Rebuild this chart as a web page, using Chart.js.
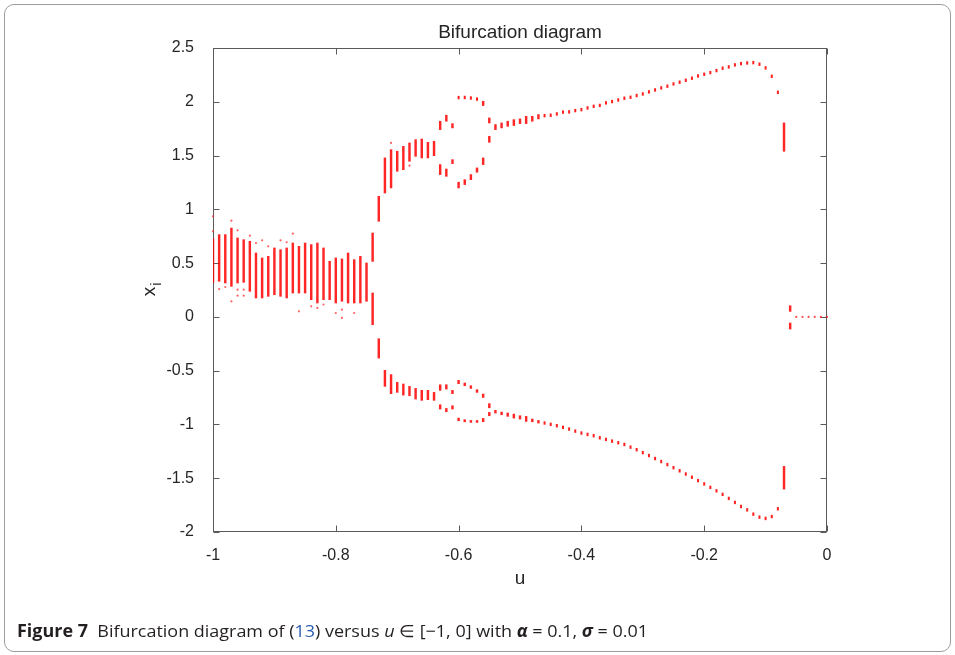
<!DOCTYPE html>
<html><head><meta charset="utf-8">
<script src="https://cdn.jsdelivr.net/npm/chart.js@4.4.1/dist/chart.umd.min.js"></script>
<style>
html,body{margin:0;padding:0;background:#fff;width:955px;height:655px;overflow:hidden;}
#frame{position:absolute;left:4px;top:4px;width:947px;height:648px;border:1px solid #9c9c9c;border-radius:10px;box-sizing:border-box;}
#wrap{position:absolute;left:0;top:0;width:955px;height:655px;}
#cap{position:absolute;left:17px;top:621px;line-height:20px;font-family:"Liberation Sans Narrow","Open Sans",sans-serif;font-size:17px;color:#231f20;white-space:nowrap;transform-origin:0 0;}
#cap .ref{color:#2a5db0;}
</style></head><body>
<div id="frame"></div>
<div id="wrap"><canvas id="c" width="955" height="655"></canvas></div>
<div id="cap"><b>Figure 7</b>&nbsp; Bifurcation diagram of (<span class="ref">13</span>) versus <i>u</i> ∈ [−1, 0] with <b><i>α</i></b> = 0.1, <b><i>σ</i></b> = 0.01</div>
<script>
// ---- text ----
const titleText = 'Bifurcation diagram';
const xAxisTitle = 'u';
const yAxisTitle = 'x';
const yAxisSub = 'i';
const xTickVals = [-1, -0.8, -0.6, -0.4, -0.2, 0];
const xTickLabels = ['-1', '-0.8', '-0.6', '-0.4', '-0.2', '0'];
const yTickVals = [-2, -1.5, -1, -0.5, 0, 0.5, 1, 1.5, 2, 2.5];
const yTickLabels = ['-2', '-1.5', '-1', '-0.5', '0', '0.5', '1', '1.5', '2', '2.5'];

// ---- dense vertical segments of iterates (u, low, high) ----
const segU = [
  -1.00, -0.99, -0.98, -0.97, -0.96, -0.95, -0.94, -0.93, -0.92, -0.91,
  -0.90, -0.89, -0.88, -0.87, -0.86, -0.85, -0.84, -0.83, -0.82, -0.81,
  -0.80, -0.79, -0.78, -0.77, -0.76, -0.75,
  -0.74, -0.74, -0.73, -0.73,
  -0.72, -0.72, -0.71, -0.71, -0.70, -0.70, -0.69, -0.69, -0.68, -0.68,
  -0.67, -0.67, -0.66, -0.66, -0.65, -0.65, -0.64, -0.64,
  -0.63, -0.63, -0.63, -0.63, -0.62, -0.62, -0.62, -0.62, -0.61, -0.61, -0.61, -0.61,
  -0.60, -0.60, -0.60, -0.59, -0.59, -0.59, -0.58, -0.58, -0.58, -0.57, -0.57, -0.57,
  -0.56, -0.56, -0.56, -0.56, -0.55, -0.55, -0.55, -0.55,
  -0.54, -0.54, -0.53, -0.53, -0.52, -0.52, -0.51, -0.51, -0.50, -0.50,
  -0.49, -0.49, -0.48, -0.48, -0.47, -0.47,
  -0.07, -0.07, -0.06, -0.06
];
const segLo = [
  0.321, 0.331, 0.315, 0.284, 0.315, 0.321, 0.238, 0.176, 0.176, 0.191,
  0.206, 0.191, 0.176, 0.222, 0.222, 0.222, 0.160, 0.129, 0.160, 0.160,
  0.129, 0.145, 0.129, 0.129, 0.129, 0.145,
  0.516, -0.073, 0.889, -0.383,
  1.152, -0.646, 1.199, -0.714, 1.354, -0.702, 1.369, -0.727, 1.447, -0.733,
  1.493, -0.764, 1.478, -0.776, 1.478, -0.770, 1.499, -0.776,
  1.741, 1.323, -0.683, -0.857, 1.819, 1.307, -0.671, -0.882, 1.757, 1.425, -0.714, -0.857,
  1.199, -0.621, -0.966, 1.230, -0.640, -0.975, 1.276, -0.665, -0.981, 1.345, -0.702, -0.981,
  1.965, 1.416, -0.749, -0.975, 1.803, 1.623, -0.845, -0.919,
  1.741, -0.894, 1.757, -0.910, 1.772, -0.925, 1.779, -0.941, 1.797, -0.950,
  1.797, -0.972, 1.819, -0.975, 1.841, -0.987,
  1.540, -1.601, 0.051, -0.113
];
const segHi = [
  0.725, 0.765, 0.765, 0.826, 0.734, 0.718, 0.703, 0.594, 0.548, 0.563,
  0.641, 0.625, 0.641, 0.687, 0.656, 0.687, 0.672, 0.687, 0.641, 0.517,
  0.548, 0.539, 0.594, 0.532, 0.563, 0.501,
  0.780, 0.222, 1.121, -0.203,
  1.478, -0.497, 1.555, -0.537, 1.540, -0.609, 1.586, -0.624, 1.617, -0.646,
  1.648, -0.665, 1.654, -0.683, 1.623, -0.683, 1.633, -0.702,
  1.819, 1.416, -0.631, -0.817, 1.875, 1.375, -0.631, -0.851, 1.797, 1.462, -0.683, -0.826,
  1.252, -0.590, -0.941, 1.276, -0.615, -0.956, 1.323, -0.640, -0.963, 1.385, -0.677, -0.963,
  2.005, 1.478, -0.717, -0.944, 1.850, 1.679, -0.807, -0.888,
  1.788, -0.869, 1.803, -0.885, 1.819, -0.894, 1.834, -0.904, 1.841, -0.919,
  1.865, -0.925, 1.865, -0.950, 1.881, -0.963,
  1.804, -1.390, 0.104, -0.057
];

// ---- isolated iterates in the chaotic band ----
const strayU = [-1.00, -1.00, -0.99, -0.98, -0.97, -0.97, -0.96, -0.96, -0.96, -0.95, -0.95,
  -0.94, -0.93, -0.92, -0.91, -0.89, -0.88, -0.87, -0.86, -0.84, -0.83, -0.82, -0.80,
  -0.79, -0.79, -0.77, -0.71, -0.68];
const strayX = [0.935, 0.796, 0.259, 0.278, 0.895, 0.145, 0.805, 0.253, 0.197, 0.253, 0.197,
  0.755, 0.687, 0.712, 0.656, 0.712, 0.694, 0.774, 0.052, 0.098, 0.083, 0.115, 0.036,
  0.067, -0.010, 0.036, 1.617, 1.406];

// ---- period-2 orbit ----
const capU = [-0.60, -0.59, -0.58, -0.57];
const capX = [2.039, 2.040, 2.035, 2.025];
const orbitU = [-0.46, -0.45, -0.44, -0.43, -0.42, -0.41, -0.40, -0.39, -0.38, -0.37,
  -0.36, -0.35, -0.34, -0.33, -0.32, -0.31, -0.30, -0.29, -0.28, -0.27,
  -0.26, -0.25, -0.24, -0.23, -0.22, -0.21, -0.20, -0.19, -0.18, -0.17,
  -0.16, -0.15, -0.14, -0.13, -0.12, -0.11, -0.10, -0.09, -0.08];
const orbitUpper = [1.871, 1.875, 1.887, 1.904, 1.906, 1.918, 1.927, 1.943, 1.958, 1.966,
  1.990, 2.002, 2.017, 2.033, 2.042, 2.058, 2.073, 2.092, 2.110, 2.129,
  2.145, 2.166, 2.182, 2.200, 2.219, 2.240, 2.256, 2.271, 2.290, 2.312,
  2.324, 2.343, 2.355, 2.361, 2.364, 2.349, 2.315, 2.237, 2.088];
const orbitLower = [-0.987, -0.999, -1.012, -1.027, -1.043, -1.062, -1.080, -1.093, -1.105, -1.124,
  -1.139, -1.155, -1.170, -1.186, -1.211, -1.235, -1.262, -1.289, -1.317, -1.345,
  -1.373, -1.402, -1.431, -1.461, -1.491, -1.522, -1.553, -1.585, -1.617, -1.650,
  -1.688, -1.725, -1.763, -1.794, -1.834, -1.862, -1.874, -1.856, -1.784];

// ---- fixed point ----
const fixedU = [-0.05, -0.04, -0.03, -0.02, -0.01, 0.00];
const fixedX = [0, 0, 0, 0, 0, 0];

const RED = 'rgba(255,0,0,0.88)';
const dashStyle = {type: 'scatter', pointStyle: 'line', rotation: 90, pointRadius: 1.7,
  borderWidth: 2, borderColor: RED, backgroundColor: RED, clip: false};

const datasets = [
  {type: 'bar', data: segU.map((u, i) => ({x: u, y: [segLo[i], segHi[i]]})),
   backgroundColor: 'rgba(255,0,0,0.85)', borderWidth: 0, barThickness: 1.8, grouped: false},
  {type: 'scatter', data: strayU.map((u, i) => ({x: u, y: strayX[i]})),
   pointRadius: 1.1, borderWidth: 0, backgroundColor: 'rgba(255,30,30,0.7)', clip: false},
  Object.assign({data: capU.map((u, i) => ({x: u, y: capX[i]}))}, dashStyle),
  Object.assign({data: orbitU.map((u, i) => ({x: u, y: orbitUpper[i]}))}, dashStyle),
  Object.assign({data: orbitU.map((u, i) => ({x: u, y: orbitLower[i]}))}, dashStyle),
  {type: 'scatter', data: fixedU.map((u, i) => ({x: u, y: fixedX[i]})),
   pointRadius: 1.1, borderWidth: 0, backgroundColor: 'rgba(255,0,0,0.7)', clip: false}
];

const AXIS = '#5a5a5a';
const TXT = '#262626';
const FONT = '"Liberation Sans", Arial, sans-serif';

const framePlugin = {
  id: 'frame',
  beforeDatasetsDraw(chart) {
    const {ctx, chartArea: {left, right, top, bottom}, scales: {x, y}} = chart;
    ctx.save();
    ctx.strokeStyle = AXIS;
    ctx.lineWidth = 1;
    const L = Math.round(left) + 0.5, R = Math.round(right) - 0.5;
    const T = Math.round(top) + 0.5, B = Math.round(bottom) - 0.5;
    ctx.strokeRect(L, T, R - L, B - T);
    ctx.beginPath();
    const tl = 6;
    x.ticks.forEach(t => {
      const px = Math.round(x.getPixelForValue(t.value)) + 0.5;
      ctx.moveTo(px, B); ctx.lineTo(px, B - tl);
      ctx.moveTo(px, T); ctx.lineTo(px, T + tl);
    });
    y.ticks.forEach(t => {
      const py = Math.round(y.getPixelForValue(t.value)) + 0.5;
      ctx.moveTo(L, py); ctx.lineTo(L + tl, py);
      ctx.moveTo(R, py); ctx.lineTo(R - tl, py);
    });
    ctx.stroke();

    ctx.fillStyle = TXT;
    ctx.textAlign = 'center';
    ctx.textBaseline = 'middle';
    const cx = (left + right) / 2;
    ctx.font = '19px ' + FONT;
    ctx.fillText(titleText, cx, 33);
    ctx.font = '19px ' + FONT;
    ctx.fillText(xAxisTitle, cx, 579);

    // y axis title with subscript, rotated
    ctx.translate(151, (top + bottom) / 2);
    ctx.rotate(-Math.PI / 2);
    ctx.font = '19px ' + FONT;
    const wx = ctx.measureText(yAxisTitle).width;
    ctx.font = '14px ' + FONT;
    const wi = ctx.measureText(yAxisSub).width;
    const start = -(wx + wi) / 2;
    ctx.textAlign = 'left';
    ctx.textBaseline = 'alphabetic';
    ctx.font = '19px ' + FONT;
    ctx.fillText(yAxisTitle, start, 4);
    ctx.font = '14px ' + FONT;
    ctx.fillText(yAxisSub, start + wx + 1, 10);
    ctx.restore();
  }
};

new Chart(document.getElementById('c').getContext('2d'), {
  type: 'scatter',
  data: {datasets},
  options: {
    responsive: false,
    animation: false,
    events: [],
    layout: {padding: {left: 0, top: 48, right: 128, bottom: 0}},
    plugins: {legend: {display: false}, tooltip: {enabled: false}, title: {display: false}},
    scales: {
      x: {
        type: 'linear', min: -1, max: 0, offset: false,
        grid: {display: false}, border: {display: false},
        afterBuildTicks: s => { s.ticks = xTickVals.map(v => ({value: v})); },
        afterFit: s => { s.height = 123; },
        ticks: {callback: (v, i) => xTickLabels[i], font: {family: FONT, size: 16}, color: TXT,
                padding: 6, maxRotation: 0, autoSkip: false}
      },
      y: {
        type: 'linear', min: -2, max: 2.5,
        grid: {display: false}, border: {display: false},
        afterBuildTicks: s => { s.ticks = yTickVals.map(v => ({value: v})); },
        afterFit: s => { s.width = 213; },
        ticks: {callback: (v, i) => yTickLabels[i], font: {family: FONT, size: 16}, color: TXT,
                padding: 11, autoSkip: false}
      }
    }
  },
  plugins: [framePlugin]
});

// fit the caption to the reference width
const cap = document.getElementById('cap');
const w = cap.getBoundingClientRect().width;
cap.style.transform = 'scaleX(' + (631 / w) + ')';
</script>
</body></html>
